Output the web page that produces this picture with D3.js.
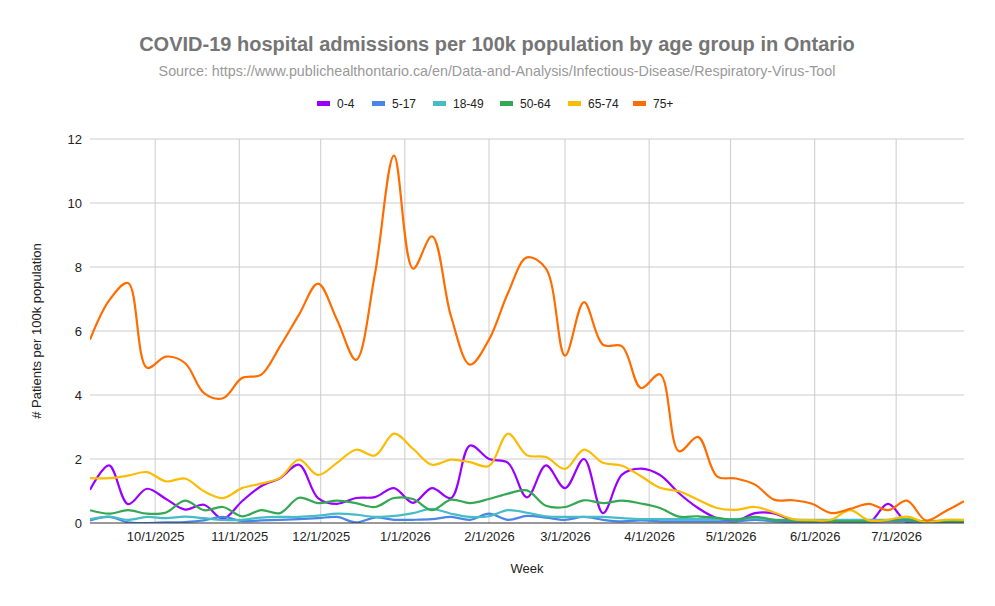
<!DOCTYPE html>
<html>
<head>
<meta charset="utf-8">
<script src="https://cdn.jsdelivr.net/npm/d3@7"></script>
<style>
  body { margin: 0; background: #fff; }
  svg { font-family: Arial, "Liberation Sans", sans-serif; }
</style>
</head>
<body>
<svg id="chart" width="995" height="606"></svg>
<script>
// weekly points, first week Sep 7 2025
var startDate = new Date(2025, 8, 7);
var weeks = d3.range(47).map(function(i) { return d3.timeDay.offset(startDate, i * 7); });

var groups = ['0-4', '5-17', '18-49', '50-64', '65-74', '75+'];
var colors = ['#9900ff', '#4a86e8', '#46bdc6', '#34a853', '#fbbc04', '#ff6d01'];

var age0_4 = [1.04, 1.8, 0.59, 1.07, 0.75, 0.42, 0.57, 0.13, 0.68, 1.15, 1.4, 1.82, 0.78, 0.6, 0.78, 0.81,
  1.09, 0.63, 1.09, 0.78, 2.42, 2.0, 1.88, 0.8, 1.8, 1.09, 2.0, 0.31, 1.51, 1.7, 1.5, 0.93, 0.47, 0.15,
  0.06, 0.31, 0.3, 0.08, 0.04, 0.06, 0.02, 0.0, 0.6, 0.02, 0, 0, 0];
var age5_17 = [0.08, 0.19, 0.02, 0.0, 0.02, 0.03, 0.08, 0.19, 0.06, 0.08, 0.1, 0.12, 0.15, 0.19, 0.02, 0.17,
  0.1, 0.1, 0.12, 0.19, 0.1, 0.29, 0.1, 0.22, 0.17, 0.1, 0.19, 0.1, 0.05, 0.08, 0.05, 0.05, 0.05, 0.05,
  0.05, 0.1, 0.05, 0.03, 0.03, 0.05, 0.03, 0.03, 0.05, 0.05, 0.02, 0.03, 0.03];
var age18_49 = [0.12, 0.2, 0.1, 0.19, 0.15, 0.2, 0.15, 0.1, 0.1, 0.17, 0.19, 0.19, 0.23, 0.29, 0.26, 0.19,
  0.22, 0.31, 0.44, 0.29, 0.19, 0.21, 0.4, 0.32, 0.21, 0.19, 0.19, 0.19, 0.15, 0.12, 0.12, 0.12, 0.12, 0.12,
  0.12, 0.15, 0.1, 0.1, 0.1, 0.1, 0.1, 0.1, 0.1, 0.12, 0.05, 0.08, 0.08];
var age50_64 = [0.4, 0.29, 0.4, 0.29, 0.33, 0.7, 0.4, 0.5, 0.21, 0.4, 0.31, 0.79, 0.62, 0.7, 0.62, 0.5,
  0.78, 0.75, 0.4, 0.73, 0.62, 0.75, 0.92, 1.02, 0.54, 0.5, 0.71, 0.62, 0.7, 0.61, 0.47, 0.2, 0.21, 0.16,
  0.1, 0.19, 0.1, 0.08, 0.06, 0.06, 0.05, 0.05, 0.08, 0.1, 0.03, 0.05, 0.05];
var age65_74 = [1.4, 1.4, 1.48, 1.59, 1.3, 1.39, 0.99, 0.78, 1.09, 1.23, 1.41, 1.98, 1.5, 1.88, 2.29, 2.11,
  2.79, 2.32, 1.82, 1.98, 1.9, 1.78, 2.79, 2.12, 2.06, 1.69, 2.29, 1.88, 1.79, 1.46, 1.1, 0.99, 0.73, 0.47,
  0.41, 0.5, 0.33, 0.12, 0.09, 0.1, 0.4, 0.08, 0.1, 0.2, 0.02, 0.1, 0.1];
var age75plus = [5.73, 6.95, 7.5, 4.85, 5.2, 5.0, 4.06, 3.9, 4.53, 4.63, 5.52, 6.51, 7.48, 6.35, 5.1, 7.8,
  11.48, 7.95, 8.96, 6.46, 4.95, 5.73, 7.19, 8.3, 7.95, 5.23, 6.9, 5.57, 5.52, 4.22, 4.65, 2.24, 2.69, 1.46,
  1.39, 1.2, 0.73, 0.71, 0.6, 0.31, 0.44, 0.6, 0.4, 0.7, 0.08, 0.36, 0.68];

var seriesValues = [age0_4, age5_17, age18_49, age50_64, age65_74, age75plus];

var yTicks = [0, 2, 4, 6, 8, 10, 12];
var monthTicks = d3.timeMonth.range(new Date(2025, 9, 1), new Date(2026, 7, 1));

var margin = {top: 139, right: 31, bottom: 83, left: 90},
  width = 995 - margin.left - margin.right,
  height = 606 - margin.top - margin.bottom;

var svg = d3.select('#chart');

var x = d3.scaleTime().domain([weeks[0], weeks[weeks.length - 1]]).range([0, width]);
var y = d3.scaleLinear().domain([0, 12]).range([height, 0]);

// title + subtitle
svg.append('text')
  .attr('x', 497).attr('y', 51)
  .attr('text-anchor', 'middle')
  .style('font-size', '20px').style('font-weight', 'bold').style('fill', '#757575')
  .text('COVID-19 hospital admissions per 100k population by age group in Ontario');
svg.append('text')
  .attr('x', 497).attr('y', 76)
  .attr('text-anchor', 'middle')
  .style('font-size', '14.3px').style('fill', '#999999')
  .text('Source: https://www.publichealthontario.ca/en/Data-and-Analysis/Infectious-Disease/Respiratory-Virus-Tool');

// legend
var legendX = [317, 372, 433, 500, 568, 633];
var legend = svg.append('g').selectAll('g')
  .data(groups)
  .enter().append('g')
  .attr('transform', function(d, i) { return 'translate(' + legendX[i] + ',104)'; });
legend.append('rect')
  .attr('x', 0).attr('y', -3).attr('width', 13).attr('height', 5)
  .attr('fill', function(d, i) { return colors[i]; });
legend.append('text')
  .attr('x', 20).attr('y', 4)
  .style('font-size', '12px').style('fill', '#222')
  .text(function(d) { return d; });

var g = svg.append('g')
  .attr('transform', 'translate(' + margin.left + ',' + margin.top + ')');

// gridlines
g.append('g')
  .selectAll('line.h')
  .data(yTicks.slice(1))
  .enter().append('line')
  .attr('x1', 0).attr('x2', width)
  .attr('y1', function(d) { return y(d); }).attr('y2', function(d) { return y(d); })
  .attr('stroke', '#cccccc').attr('stroke-width', 1);
g.append('g')
  .selectAll('line.v')
  .data(monthTicks)
  .enter().append('line')
  .attr('x1', function(d) { return x(d); }).attr('x2', function(d) { return x(d); })
  .attr('y1', 0).attr('y2', height)
  .attr('stroke', '#cccccc').attr('stroke-width', 1);

// axes
var yAxis = d3.axisLeft(y).tickValues(yTicks).tickSize(0).tickPadding(8).tickFormat(d3.format('d'));
g.append('g')
  .attr('class', 'axis axis--y')
  .call(yAxis)
  .call(function(s) { s.select('.domain').remove(); })
  .selectAll('text').style('font-size', '13px').style('fill', '#222').style('font-family', 'Arial, "Liberation Sans", sans-serif');

var fmt = function(d) { return (d.getMonth() + 1) + '/' + d.getDate() + '/' + d.getFullYear(); };
var xAxis = d3.axisBottom(x).tickValues(monthTicks).tickSize(0).tickPadding(9).tickFormat(fmt);
g.append('g')
  .attr('class', 'axis axis--x')
  .attr('transform', 'translate(0,' + height + ')')
  .call(xAxis)
  .call(function(s) { s.select('.domain').remove(); })
  .selectAll('text').style('font-size', '13px').style('fill', '#222').style('font-family', 'Arial, "Liberation Sans", sans-serif');

// clip to plot area
svg.append('defs').append('clipPath').attr('id', 'plotclip')
  .append('rect').attr('x', 0).attr('y', -5).attr('width', width).attr('height', height + 5);

var line = d3.line()
  .x(function(d, i) { return x(weeks[i]); })
  .y(function(d) { return y(d); })
  .curve(d3.curveCatmullRom.alpha(0.5));

g.append('g')
  .attr('clip-path', 'url(#plotclip)')
  .selectAll('path')
  .data(seriesValues)
  .enter().append('path')
  .attr('d', line)
  .attr('fill', 'none')
  .attr('stroke', function(d, i) { return colors[i]; })
  .attr('stroke-width', 2.2);

// baseline
g.append('line')
  .attr('x1', 0).attr('x2', width)
  .attr('y1', y(0)).attr('y2', y(0))
  .attr('stroke', '#333').attr('stroke-width', 1);

// axis titles
svg.append('text')
  .attr('x', margin.left + width / 2).attr('y', 573)
  .attr('text-anchor', 'middle')
  .style('font-size', '13px').style('fill', '#222')
  .text('Week');
svg.append('text')
  .attr('transform', 'translate(41,' + (margin.top + height / 2) + ') rotate(-90)')
  .attr('text-anchor', 'middle')
  .style('font-size', '13px').style('fill', '#222')
  .text('# Patients per 100k population');
</script>
</body>
</html>
